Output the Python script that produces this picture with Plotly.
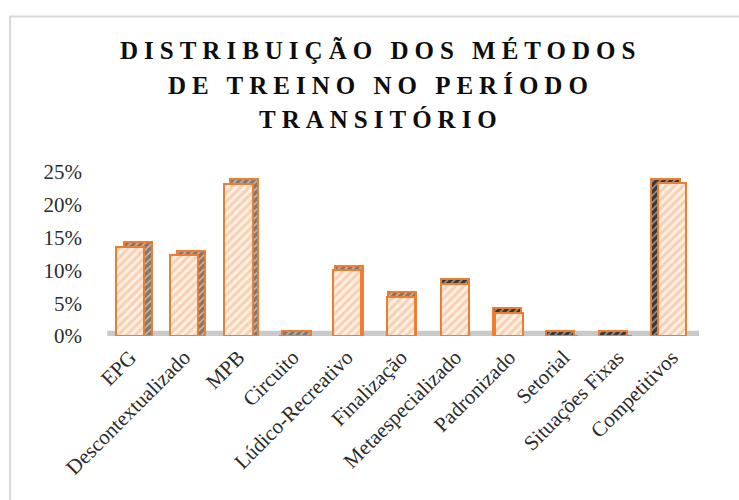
import plotly.graph_objects as go

# ---- data ----
categories = ["EPG", "Descontextualizado", "MPB", "Circuito", "Lúdico-Recreativo",
              "Finalização", "Metaespecializado", "Padronizado", "Setorial",
              "Situações Fixas", "Competitivos"]
values = [0.136, 0.123, 0.232, 0.0, 0.100, 0.060, 0.080, 0.035, 0.0, 0.0, 0.233]
title_lines = ["DISTRIBUIÇÃO DOS MÉTODOS", "DE TREINO NO PERÍODO", "TRANSITÓRIO"]
tick_vals = [0, 0.05, 0.10, 0.15, 0.20, 0.25]

# ---- style ----
ORANGE = "#ED7D31"
BAR_W = 0.52
DEPTH_Y = 0.007           # apparent depth of the top face (axis units)
PERSP_K = 0.027           # horizontal depth shift per category from vanishing point
VANISH = 5.6
SERIF = "Liberation Serif, Times New Roman, serif"

dx = [PERSP_K * (VANISH - i) for i in range(len(categories))]
back_offset = [-BAR_W / 2 + d for d in dx]
back_fg = ["#B3A294" if d >= 0 else "#6A5B51" for d in dx]
back_bg = ["#85766B" if d >= 0 else "#3F3530" for d in dx]
back_y = [v + DEPTH_Y for v in values]

fig = go.Figure()

# side / top faces (behind)
fig.add_trace(go.Bar(
    x=categories, y=back_y, width=BAR_W, offset=back_offset,
    marker=dict(color=back_bg, line=dict(color=ORANGE, width=2),
                pattern=dict(shape="/", fgcolor=back_fg,
                             size=5, solidity=0.3, fillmode="overlay")),
    showlegend=False, hoverinfo="skip"))

# front faces
fig.add_trace(go.Bar(
    x=categories, y=values, width=BAR_W, offset=-BAR_W / 2,
    marker=dict(color="#FFF1E6", line=dict(color=ORANGE, width=2),
                pattern=dict(shape="/", fgcolor="#F4AE7E",
                             size=6, solidity=0.5, fillmode="overlay")),
    showlegend=False, hovertemplate="%{x}: %{y:.1%}<extra></extra>"))

# floor
fig.add_shape(type="rect", xref="paper", yref="y", x0=0.007, x1=1.0,
              y0=0, y1=0.008, fillcolor="#C9C9C9", line=dict(width=0), layer="below")

# outer frame
fig.add_shape(type="rect", xref="paper", yref="paper", x0=-0.156, x1=1.08,
              y0=-1.1, y1=1.948, line=dict(color="#D9D9D9", width=2),
              fillcolor="rgba(0,0,0,0)", layer="below")

# title (three centred lines)
title_y = [1.739, 1.527, 1.321]
for line, yy in zip(title_lines, title_y):
    fig.add_annotation(text=f"<b>{line}</b>", xref="paper", yref="paper",
                       x=0.466, y=yy, xanchor="center", yanchor="middle",
                       showarrow=False,
                       font=dict(family=SERIF, size=25, color="#0D0D0D"))

fig.update_layout(
    width=739, height=500,
    margin=dict(l=103, r=40, t=172, b=164),
    paper_bgcolor="white", plot_bgcolor="white",
    barmode="overlay", bargap=0,
    xaxis=dict(type="category", range=[-0.5, 10.5], showgrid=False, showline=False,
               zeroline=False, tickangle=-45, ticks="", ticklabelstandoff=4,
               tickfont=dict(family=SERIF, size=21, color="#2B2B2B")),
    yaxis=dict(range=[0, 0.25], tickvals=tick_vals, tickformat=".0%",
               showgrid=False, showline=False, zeroline=False, ticks="",
               ticklabelstandoff=20,
               tickfont=dict(family=SERIF, size=21, color="#2B2B2B")),
)

post = ("document.body.style.margin='0';"
        "var s=document.createElement('style');"
        "s.textContent='.annotation-text{letter-spacing:6px}';"
        "document.head.appendChild(s);")
fig.write_html("out.html", post_script=post, config={"displayModeBar": False})
